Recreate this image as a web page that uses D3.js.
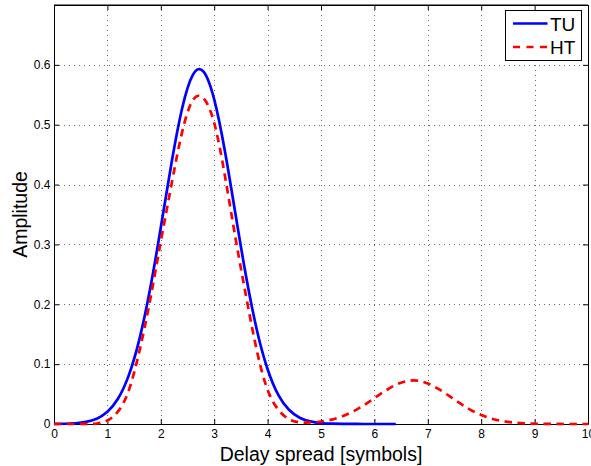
<!DOCTYPE html>
<html>
<head>
<meta charset="utf-8">
<script src="https://cdn.jsdelivr.net/npm/d3@7"></script>
<style>
  body { margin: 0; background: #fff; }
  svg text { font-family: "Liberation Sans", Arial, Helvetica, sans-serif; fill: #000; }
</style>
</head>
<body>
<svg id="chart" width="591" height="466"></svg>
<script>
// ---- data ----
const xValues = [0,0.2,0.4,0.6,0.8,1.0,1.2,1.4,1.6,1.8,2.0,2.2,2.4,2.6,2.8,3.0,3.2,3.4,3.6,3.8,
                 4.0,4.2,4.4,4.6,4.8,5.0,5.2,5.4,5.6,5.8,6.0,6.2,6.4,6.6,6.8,7.0,7.2,7.4,7.6,7.8,
                 8.0,8.2,8.4,8.6,8.8,9.0,9.2,9.4,9.6,9.8,10.0];
// TU channel (defined up to x = 6.4)
const tuValues = [0.0001,0.0004,0.0013,0.0035,0.0088,0.0203,0.0425,0.0812,0.1418,0.2258,
                  0.3282,0.4356,0.5276,0.5833,0.5887,0.5422,0.4560,0.3499,0.2451,0.1567,
                  0.0915,0.0487,0.0237,0.0105,0.0043,0.0016,0.0005,0.0002,0.0001,0,
                  0,0,0];
// HT channel
const htValues = [0,0,0,0.0001,0.0008,0.006,0.021,0.056,0.122,0.207,
                  0.305,0.400,0.488,0.541,0.544,0.503,0.415,0.310,0.212,0.122,
                  0.057,0.024,0.008,0.0028,0.0026,0.0042,0.0074,0.0129,0.0209,0.0312,
                  0.0432,0.0552,0.0654,0.0715,0.0724,0.0677,0.0586,0.0469,0.0347,0.0237,
                  0.0150,0.0088,0.0048,0.0024,0.0011,0.0005,0.0002,0.0001,0,0,0];
const seriesNames = ["TU", "HT"];
const seriesColors = ["#0000ff", "#ff0000"];
const xTicks = [0,1,2,3,4,5,6,7,8,9,10];
const yTicks = [0,0.1,0.2,0.3,0.4,0.5,0.6];
const xLabel = "Delay spread [symbols]";
const yLabel = "Amplitude";

// ---- layout ----
const svg = d3.select("#chart");
const L = 54, R = 588, T = 5, B = 424;
const x = d3.scaleLinear().domain([0, 10]).range([L, R]);
const y = d3.scaleLinear().domain([0, 0.7]).range([B, T]);

svg.append("rect").attr("x",0).attr("y",0).attr("width",591).attr("height",466).attr("fill","#fff");

// grid
const grid = svg.append("g").attr("stroke", "#6a6a6a").attr("stroke-width", 1)
  .attr("stroke-dasharray", "1,4").attr("shape-rendering", "crispEdges");
grid.selectAll("line.vx").data(xTicks.filter(d => d > 0 && d < 10)).enter().append("line")
  .attr("x1", d => Math.round(x(d)) + 0.5).attr("x2", d => Math.round(x(d)) + 0.5)
  .attr("y1", T).attr("y2", B);
grid.selectAll("line.hy").data(yTicks.filter(d => d > 0)).enter().append("line")
  .attr("y1", d => Math.round(y(d)) + 0.5).attr("y2", d => Math.round(y(d)) + 0.5)
  .attr("x1", L).attr("x2", R);

// axes
function styleAxis(g) {
  g.selectAll("path.domain").attr("stroke", "#000").attr("stroke-width", 1);
  g.selectAll(".tick line").attr("stroke", "#000").attr("stroke-width", 1);
  g.selectAll(".tick text").attr("font-size", 12).attr("fill", "#000")
    .attr("font-family", '"Liberation Sans", Arial, Helvetica, sans-serif');
}
const fmt = d => String(d);
svg.append("g").attr("transform", `translate(0,${B})`)
  .call(d3.axisBottom(x).tickValues(xTicks).tickFormat(fmt).tickSize(-5).tickSizeOuter(0).tickPadding(5))
  .call(styleAxis);
svg.append("g").attr("transform", `translate(${L},0)`)
  .call(d3.axisLeft(y).tickValues(yTicks).tickFormat(fmt).tickSize(-5).tickSizeOuter(0).tickPadding(3.5))
  .call(styleAxis);
svg.append("g").attr("transform", `translate(0,${T})`)
  .call(d3.axisTop(x).tickValues(xTicks).tickFormat("").tickSize(-5).tickSizeOuter(0))
  .call(styleAxis);
svg.append("g").attr("transform", `translate(${R},0)`)
  .call(d3.axisRight(y).tickValues(yTicks).tickFormat("").tickSize(-5).tickSizeOuter(0))
  .call(styleAxis);
svg.append("line").attr("x1", L).attr("x2", R).attr("y1", T).attr("y2", T).attr("stroke", "#000");

// axis titles
svg.append("text").attr("x", (L + R) / 2).attr("y", 461).attr("text-anchor", "middle")
  .attr("font-size", 19.5).text(xLabel);
svg.append("text").attr("transform", `translate(27,${(T + B) / 2}) rotate(-90)`)
  .attr("text-anchor", "middle").attr("font-size", 19.5).text(yLabel);

// curves
const line = d3.line().x(d => x(d[0])).y(d => y(d[1])).curve(d3.curveNatural);
const tuData = tuValues.map((v, i) => [xValues[i], v]);
const htData = htValues.map((v, i) => [xValues[i], v]);
svg.append("path").datum(tuData).attr("d", line).attr("fill", "none")
  .attr("stroke", seriesColors[0]).attr("stroke-width", 2.7);
svg.append("path").datum(htData).attr("d", line).attr("fill", "none")
  .attr("stroke", seriesColors[1]).attr("stroke-width", 2.7).attr("stroke-dasharray", "7.5,5.5");

// legend
const lg = svg.append("g");
lg.append("rect").attr("x", 505.5).attr("y", 10.5).attr("width", 76).attr("height", 50)
  .attr("fill", "#fff").attr("stroke", "#000").attr("stroke-width", 1);
seriesNames.forEach((name, i) => {
  const yy = 23.5 + i * 23.5;
  lg.append("line").attr("x1", 513).attr("x2", 547.5).attr("y1", yy).attr("y2", yy)
    .attr("stroke", seriesColors[i]).attr("stroke-width", 2.7)
    .attr("stroke-dasharray", i === 1 ? "7,6.5" : null);
  lg.append("text").attr("x", 550).attr("y", yy + 7).attr("font-size", 19).text(name);
});
</script>
</body>
</html>
